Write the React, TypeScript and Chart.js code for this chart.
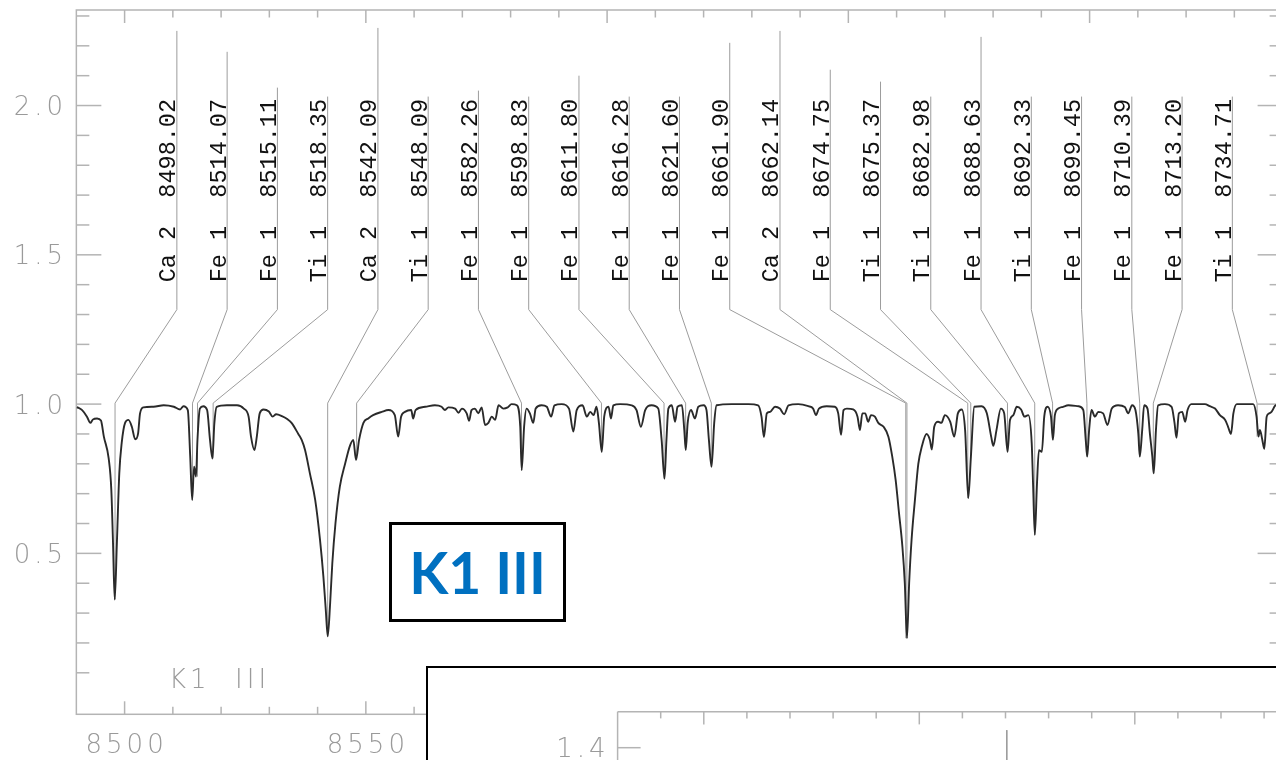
import React, { useEffect, useRef } from "react";
import { Chart, registerables } from "chart.js";

Chart.register(...registerables);

// ---------- spectrum (wavelength in Angstrom, normalised flux) ----------
const WAVELENGTH = [
  8490.1, 8491.2, 8492.2, 8492.9, 8493.4, 8494.3, 8495.1, 8495.7, 8496.7, 8497.25,
  8497.6, 8497.95, 8498.4, 8498.9, 8499.4, 8500.1, 8500.8, 8501.5, 8502.2, 8502.8,
  8503.2, 8503.9, 8506.0, 8508.1, 8510.2, 8511.5, 8512.2, 8513.1, 8513.6, 8514.0,
  8514.4, 8514.8, 8515.1, 8515.6, 8516.3, 8517.1, 8517.7, 8518.2, 8518.6, 8519.1,
  8521.2, 8523.3, 8524.7, 8525.7, 8526.2, 8526.9, 8527.4, 8528.0, 8528.8, 8529.9,
  8530.7, 8531.4, 8532.6, 8533.7, 8534.6, 8536.0, 8536.7, 8537.4, 8538.4, 8539.5,
  8540.5, 8541.2, 8541.7, 8542.1, 8542.6, 8543.05, 8543.7, 8544.6, 8545.7, 8546.7,
  8547.4, 8547.96, 8548.6, 8549.5, 8550.5, 8551.5, 8553.3, 8554.7, 8556.0, 8556.7,
  8557.3, 8558.1, 8559.4, 8559.8, 8560.3, 8562.3, 8564.3, 8565.7, 8566.4, 8567.1,
  8568.5, 8569.2, 8569.9, 8570.9, 8571.4, 8571.9, 8572.6, 8573.3, 8574.0, 8574.7,
  8575.4, 8576.1, 8576.8, 8577.5, 8578.5, 8579.4, 8580.2, 8581.3, 8582.0, 8582.3,
  8582.8, 8583.3, 8584.0, 8584.7, 8585.2, 8586.4, 8587.5, 8588.4, 8589.1, 8590.6,
  8592.1, 8593.0, 8593.7, 8594.9, 8595.8, 8596.5, 8597.2, 8597.8, 8598.3, 8598.9,
  8599.4, 8600.3, 8600.8, 8601.3, 8602.7, 8605.1, 8606.1, 8607.0, 8607.9, 8609.2,
  8610.6, 8611.3, 8611.9, 8612.3, 8612.7, 8613.4, 8614.1, 8614.6, 8615.5, 8616.0,
  8616.3, 8616.7, 8617.4, 8618.2, 8618.9, 8620.0, 8620.6, 8621.1, 8621.65, 8622.2,
  8622.7, 8625.8, 8629.3, 8631.3, 8632.0, 8632.5, 8633.1, 8633.8, 8634.8, 8635.8,
  8636.7, 8637.6, 8639.6, 8641.7, 8642.7, 8643.3, 8643.9, 8645.5, 8647.2, 8647.9,
  8648.5, 8649.0, 8649.7, 8651.0, 8651.9, 8652.4, 8652.9, 8653.5, 8654.1, 8654.7,
  8655.5, 8656.2, 8657.3, 8658.3, 8659.1, 8659.8, 8660.5, 8661.2, 8661.7, 8662.15,
  8662.6, 8663.1, 8663.8, 8664.5, 8665.2, 8666.2, 8666.9, 8667.3, 8667.8, 8668.6,
  8669.3, 8670.0, 8671.1, 8671.96, 8672.7, 8673.5, 8674.2, 8674.85, 8675.4, 8676.1,
  8677.6, 8678.7, 8679.6, 8680.05, 8680.7, 8681.6, 8682.3, 8683.0, 8683.5, 8684.2,
  8684.9, 8685.8, 8686.5, 8687.3, 8688.0, 8688.3, 8688.65, 8689.1, 8689.5, 8690.1,
  8690.6, 8691.3, 8692.0, 8692.4, 8692.8, 8693.5, 8694.5, 8695.6, 8697.7, 8698.7,
  8699.2, 8699.5, 8699.9, 8700.4, 8701.1, 8701.8, 8702.8, 8703.7, 8704.6, 8705.9,
  8707.3, 8708.0, 8708.8, 8709.5, 8710.1, 8710.4, 8710.9, 8711.3, 8712.0, 8712.5,
  8713.0, 8713.3, 8713.75, 8714.2, 8715.6, 8717.0, 8717.6, 8718.0, 8718.5, 8719.2,
  8719.8, 8720.3, 8721.1, 8722.5, 8723.9, 8724.9, 8726.0, 8727.0, 8728.1, 8728.7,
  8729.3, 8729.8, 8730.5, 8732.2, 8733.9, 8734.6, 8735.0, 8735.3, 8735.8, 8736.2,
  8736.7, 8737.2, 8737.7, 8738.6, 8740.0,
];

const FLUX = [
  0.99, 0.98, 0.958, 0.937, 0.948, 0.952, 0.945, 0.891, 0.818, 0.712,
  0.534, 0.345, 0.534, 0.768, 0.87, 0.937, 0.947, 0.924, 0.882, 0.902,
  0.969, 0.989, 0.991, 0.996, 0.991, 0.982, 0.993, 0.98, 0.824, 0.679,
  0.79, 0.757, 0.88, 0.985, 0.993, 0.98, 0.88, 0.818, 0.935, 0.991,
  0.996, 0.996, 0.985, 0.958, 0.891, 0.846, 0.891, 0.969, 0.982, 0.975,
  0.958, 0.966, 0.96, 0.95, 0.937, 0.9, 0.88, 0.846, 0.768, 0.679,
  0.545, 0.422, 0.31, 0.222, 0.333, 0.467, 0.6, 0.723, 0.8, 0.86,
  0.88, 0.813, 0.88, 0.937, 0.952, 0.963, 0.974, 0.98, 0.963, 0.891,
  0.958, 0.974, 0.98, 0.952, 0.98, 0.991, 0.996, 0.991, 0.98, 0.989,
  0.985, 0.971, 0.985, 0.969, 0.944, 0.98, 0.985, 0.969, 0.989, 0.93,
  0.937, 0.958, 0.947, 0.996, 0.985, 0.989, 1.0, 0.996, 0.924, 0.779,
  0.924, 0.985, 0.969, 0.937, 0.985, 0.996, 0.991, 0.958, 0.996, 1.0,
  0.985, 0.908, 0.98, 0.996, 0.958, 0.974, 0.963, 0.991, 0.937, 0.84,
  0.958, 0.991, 0.952, 0.996, 1.0, 0.996, 0.98, 0.924, 0.98, 0.996,
  0.985, 0.88, 0.75, 0.88, 0.985, 0.996, 0.941, 0.991, 0.996, 0.913,
  0.846, 0.937, 0.98, 0.952, 0.991, 0.996, 0.98, 0.88, 0.79, 0.937,
  0.996, 1.0, 1.0, 0.996, 0.958, 0.89, 0.969, 0.974, 0.991, 0.985,
  0.966, 0.996, 1.0, 0.993, 0.985, 0.963, 0.985, 0.993, 0.991, 0.969,
  0.897, 0.98, 0.985, 0.982, 0.958, 0.913, 0.969, 0.969, 0.941, 0.963,
  0.958, 0.937, 0.924, 0.891, 0.824, 0.746, 0.635, 0.523, 0.4, 0.216,
  0.4, 0.545, 0.679, 0.8, 0.856, 0.9, 0.88, 0.848, 0.924, 0.941,
  0.937, 0.963, 0.941, 0.891, 0.969, 0.982, 0.913, 0.685, 0.824, 0.991,
  0.993, 0.969, 0.891, 0.86, 0.913, 0.985, 0.969, 0.84, 0.947, 0.963,
  0.991, 0.982, 0.958, 0.963, 0.87, 0.723, 0.562, 0.735, 0.846, 0.84,
  0.958, 0.991, 0.958, 0.88, 0.963, 0.985, 0.991, 0.996, 0.993, 0.98,
  0.88, 0.824, 0.913, 0.98, 0.958, 0.974, 0.969, 0.93, 0.985, 0.996,
  0.99, 0.969, 0.996, 0.98, 0.9, 0.824, 0.913, 0.996, 0.985, 0.9,
  0.824, 0.768, 0.913, 0.996, 1.0, 0.991, 0.937, 0.887, 0.969, 0.974,
  0.941, 0.98, 1.0, 1.0, 1.0, 0.993, 0.985, 0.963, 0.947, 0.924,
  0.9, 0.969, 1.0, 1.0, 1.0, 0.958, 0.891, 0.913, 0.88, 0.85,
  0.958, 0.969, 0.974, 0.996, 0.99,
];

// ---------- line identifications ----------
const LINE_IONS = [
  "Ca 2", "Fe 1", "Fe 1", "Ti 1", "Ca 2", "Ti 1", "Fe 1", "Fe 1", "Fe 1", "Fe 1", "Fe 1",
  "Fe 1", "Ca 2", "Fe 1", "Ti 1", "Ti 1", "Fe 1", "Ti 1", "Fe 1", "Fe 1", "Fe 1", "Ti 1",
];
const LINE_WAVES = [
  8498.02, 8514.07, 8515.11, 8518.35, 8542.09, 8548.09, 8582.26, 8598.83, 8611.8, 8616.28, 8621.6,
  8661.9, 8662.14, 8674.75, 8675.37, 8682.98, 8688.63, 8692.33, 8699.45, 8710.39, 8713.2, 8734.71,
];
// top of each leader line (in flux units)
const LINE_TOPS = [
  2.25, 2.18, 2.06, 2.03, 2.26, 2.03, 2.05, 2.03, 2.1, 2.03, 2.03,
  2.21, 2.25, 2.12, 2.08, 2.03, 2.23, 2.03, 2.03, 2.03, 2.03, 2.03,
];

// ---------- axes ----------
const X_RANGE = [8490, 8740];
const Y_RANGE = [-0.039, 2.32];
const X_TICK_LABELS = [8500, 8550, 8600, 8650, 8700];
const Y_TICK_LABELS = [0.5, 1.0, 1.5, 2.0];
const STAR_LABEL = "K1  III";
const BOX_TITLE = "K1 III";

// ---------- inset (second panel, mostly hidden) ----------
const INSET_X_RANGE = [8480, 8643.9];
const INSET_Y_RANGE = [1.3193, 1.48];
const INSET_Y_LABELS = [1.4];
const INSET_MARKER_X = [8570.3];
const INSET_MARKER_TOP = [1.439];

const AXIS = "#b4b4b4";
const LABEL_GREY = "#9a9a9a";
const LEADER = "#9c9c9c";
const TICK_FONT = "200 26px 'DejaVu Sans'";

const LEADER_BEND = 1.3165;
const LEADER_END = 1.0033;
const TEXT_START = 1.408;

function coreFlux(w: number): number {
  let m = Infinity;
  for (let i = 0; i < WAVELENGTH.length; i++) {
    if (Math.abs(WAVELENGTH[i] - w) <= 0.45) m = Math.min(m, FLUX[i]);
  }
  return m === Infinity ? 1 : m;
}

function seg(ctx: CanvasRenderingContext2D, x1: number, y1: number, x2: number, y2: number) {
  ctx.beginPath();
  ctx.moveTo(x1, y1);
  ctx.lineTo(x2, y2);
  ctx.stroke();
}

const mainPlugin = {
  id: "spectrumFrame",
  beforeDatasetsDraw(chart: any) {
    const { ctx, chartArea: a } = chart;
    const x = chart.scales.x;
    const y = chart.scales.y;
    ctx.save();
    ctx.strokeStyle = AXIS;
    ctx.lineWidth = 1.5;
    ctx.strokeRect(a.left, a.top, a.right - a.left, a.bottom - a.top);
    for (let v = X_RANGE[0] + 10; v < X_RANGE[1]; v += 10) {
      const px = x.getPixelForValue(v);
      const len = v % 50 === 0 ? 13 : 7.5;
      seg(ctx, px, a.bottom, px, a.bottom - len);
      seg(ctx, px, a.top, px, a.top + len);
    }
    for (let k = 1; k <= 23; k++) {
      const py = y.getPixelForValue(k / 10);
      const len = k % 5 === 0 ? 25 : 13;
      seg(ctx, a.left, py, a.left + len, py);
      seg(ctx, a.right, py, a.right - len, py);
    }
    // tick labels
    ctx.fillStyle = LABEL_GREY;
    ctx.font = TICK_FONT;
    (ctx as any).letterSpacing = "4px";
    ctx.textBaseline = "alphabetic";
    ctx.textAlign = "right";
    Y_TICK_LABELS.forEach((v) => {
      ctx.fillText(v.toFixed(1), 67, y.getPixelForValue(v) + 9.5);
    });
    ctx.textAlign = "center";
    X_TICK_LABELS.forEach((v) => {
      ctx.fillText(String(v), x.getPixelForValue(v) + 2, 753);
    });
    ctx.textAlign = "left";
    ctx.fillText(STAR_LABEL, 169, 688);
    (ctx as any).letterSpacing = "0px";

    // leader lines
    ctx.strokeStyle = LEADER;
    ctx.lineWidth = 1;
    const span = X_RANGE[1] - X_RANGE[0];
    LINE_WAVES.forEach((w, i) => {
      const sx = x.getPixelForValue(X_RANGE[0] + ((i + 2) * span) / 24);
      const lx = x.getPixelForValue(w);
      ctx.beginPath();
      ctx.moveTo(sx, y.getPixelForValue(LINE_TOPS[i]));
      ctx.lineTo(sx, y.getPixelForValue(LEADER_BEND));
      ctx.lineTo(lx, y.getPixelForValue(LEADER_END));
      ctx.lineTo(lx, y.getPixelForValue(coreFlux(w)));
      ctx.stroke();
    });

    // identification texts
    ctx.fillStyle = "#111";
    ctx.font = "23.5px 'Liberation Mono'";
    ctx.textAlign = "left";
    ctx.textBaseline = "alphabetic";
    LINE_WAVES.forEach((w, i) => {
      const sx = x.getPixelForValue(X_RANGE[0] + ((i + 2) * span) / 24);
      ctx.save();
      ctx.translate(sx - 1.5, y.getPixelForValue(TEXT_START));
      ctx.rotate(-Math.PI / 2);
      ctx.fillText(`${LINE_IONS[i]}  ${w.toFixed(2)}`, 0, 0);
      ctx.restore();
    });
    ctx.restore();
  },
};

const insetPlugin = {
  id: "insetFrame",
  beforeDatasetsDraw(chart: any) {
    const { ctx, chartArea: a } = chart;
    const x = chart.scales.x;
    const y = chart.scales.y;
    ctx.save();
    ctx.strokeStyle = AXIS;
    ctx.lineWidth = 1.5;
    seg(ctx, a.left, a.top, a.right + 2, a.top);
    seg(ctx, a.left, a.top, a.left, a.bottom + 2);
    for (let v = INSET_X_RANGE[0] + 10; v < INSET_X_RANGE[1]; v += 10) {
      const px = x.getPixelForValue(v);
      const len = v % 50 === 0 ? 12.7 : 6.7;
      seg(ctx, px, a.top, px, a.top + len);
    }
    INSET_Y_LABELS.forEach((v) => {
      const py = y.getPixelForValue(v);
      seg(ctx, a.left, py, a.left + 23, py);
    });
    ctx.fillStyle = LABEL_GREY;
    ctx.font = TICK_FONT;
    (ctx as any).letterSpacing = "4px";
    ctx.textAlign = "right";
    ctx.textBaseline = "alphabetic";
    INSET_Y_LABELS.forEach((v) => {
      ctx.fillText(v.toFixed(1), a.left - 8, y.getPixelForValue(v) + 9.5);
    });
    ctx.restore();
  },
};

export default function App() {
  const mainRef = useRef<HTMLCanvasElement>(null);
  const insetRef = useRef<HTMLCanvasElement>(null);

  useEffect(() => {
    const spectrum = WAVELENGTH.map((w, i) => ({ x: w, y: FLUX[i] }));
    const main = new Chart(mainRef.current as HTMLCanvasElement, {
      type: "line",
      data: {
        datasets: [
          {
            data: spectrum,
            borderColor: "#2a2a2a",
            borderWidth: 1.9,
            pointRadius: 0,
            cubicInterpolationMode: "monotone",
            fill: false,
          },
        ],
      },
      options: {
        responsive: false,
        animation: false,
        events: [],
        layout: { padding: { left: 76.35, top: 10, right: 17.4, bottom: 45.7 } },
        plugins: { legend: { display: false }, tooltip: { enabled: false } },
        scales: {
          x: { type: "linear", min: X_RANGE[0], max: X_RANGE[1], display: false },
          y: { type: "linear", min: Y_RANGE[0], max: Y_RANGE[1], display: false },
        },
      },
      plugins: [mainPlugin],
    } as any);

    const inset = new Chart(insetRef.current as HTMLCanvasElement, {
      type: "line",
      data: {
        datasets: INSET_MARKER_X.map((mx, i) => ({
          data: [
            { x: mx, y: INSET_MARKER_TOP[i] },
            { x: mx, y: INSET_Y_RANGE[0] },
          ],
          borderColor: LEADER,
          borderWidth: 1,
          pointRadius: 0,
        })),
      },
      options: {
        responsive: false,
        animation: false,
        events: [],
        layout: { padding: { left: 189.6, top: 43.7, right: 0, bottom: 0 } },
        plugins: { legend: { display: false }, tooltip: { enabled: false } },
        scales: {
          x: { type: "linear", min: INSET_X_RANGE[0], max: INSET_X_RANGE[1], display: false },
          y: { type: "linear", min: INSET_Y_RANGE[0], max: INSET_Y_RANGE[1], display: false },
        },
      },
      plugins: [insetPlugin],
    } as any);

    return () => {
      main.destroy();
      inset.destroy();
    };
  }, []);

  return (
    <div
      style={{
        position: "fixed",
        left: 0,
        top: 0,
        width: 1276,
        height: 760,
        overflow: "hidden",
        background: "#fff",
      }}
    >
      <canvas
        ref={mainRef}
        width={1300}
        height={760}
        style={{ position: "absolute", left: 0, top: 0, width: 1300, height: 760 }}
      />
      <div
        style={{
          position: "absolute",
          left: 389,
          top: 522,
          width: 177,
          height: 100,
          boxSizing: "border-box",
          border: "3px solid #000",
          background: "#fff",
          display: "flex",
          alignItems: "center",
          justifyContent: "center",
          color: "#0070C0",
          fontFamily: "Lato, 'Open Sans', sans-serif",
          fontWeight: 700,
          fontSize: 57,
          lineHeight: 1,
        }}
      >
        {BOX_TITLE}
      </div>
      <div
        style={{
          position: "absolute",
          left: 426,
          top: 666,
          width: 900,
          height: 120,
          boxSizing: "border-box",
          border: "2px solid #000",
          background: "#fff",
        }}
      >
        <canvas ref={insetRef} width={896} height={116} style={{ display: "block", width: 896, height: 116 }} />
      </div>
    </div>
  );
}
